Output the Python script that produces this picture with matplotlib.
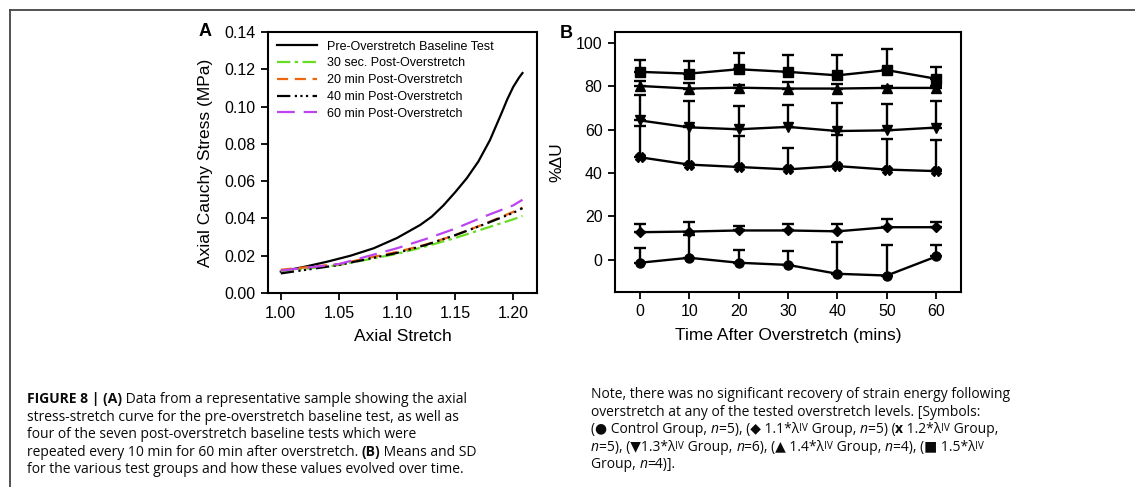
import matplotlib
matplotlib.use("Agg")
import matplotlib.pyplot as plt
from matplotlib.lines import Line2D
from matplotlib.transforms import IdentityTransform
import numpy as np

# ---------------- data: panel A ----------------
base_x = [1.00, 1.02, 1.04, 1.06, 1.08, 1.10, 1.12, 1.13, 1.14, 1.15, 1.16, 1.17, 1.18, 1.19, 1.195, 1.20, 1.205, 1.208]
base_y = [0.0115, 0.0140, 0.0168, 0.0200, 0.0240, 0.0295, 0.0365, 0.0410, 0.0470, 0.0540, 0.0615, 0.0705, 0.0820, 0.0965, 0.1040, 0.1105, 0.1155, 0.1180]

post_x = [1.00, 1.05, 1.10, 1.125, 1.15, 1.175, 1.20, 1.208]
post_30s = [0.0115, 0.0150, 0.0210, 0.0250, 0.0295, 0.0345, 0.0395, 0.0413]
post_20 = [0.0125, 0.0155, 0.0220, 0.0260, 0.0310, 0.0370, 0.0435, 0.0458]
post_40 = [0.0105, 0.0150, 0.0215, 0.0258, 0.0310, 0.0368, 0.0430, 0.0455]
post_60 = [0.0120, 0.0155, 0.0240, 0.0290, 0.0345, 0.0410, 0.0470, 0.0500]

legend_labels = ["Pre-Overstretch Baseline Test", "30 sec. Post-Overstretch",
                 "20 min Post-Overstretch", "40 min Post-Overstretch",
                 "60 min Post-Overstretch"]

# ---------------- data: panel B ----------------
times = [0, 10, 20, 30, 40, 50, 60]
control_mean = [-1.5, 0.8, -1.5, -2.5, -6.6, -7.4, 1.4]
control_sd = [6.9, 10.3, 6.1, 6.3, 14.9, 13.9, 5.1]
g11_mean = [12.6, 12.9, 13.4, 13.4, 13.0, 14.9, 14.9]
g11_sd = [3.9, 4.4, 2.0, 3.1, 3.2, 3.6, 2.4]
g12_mean = [47.2, 43.8, 42.7, 41.6, 43.1, 41.5, 40.8]
g12_sd = [14.3, 17.7, 14.2, 9.9, 14.2, 14.3, 14.5]
g13_mean = [64.2, 61.0, 60.1, 61.2, 59.3, 59.6, 60.9]
g13_sd = [11.5, 12.0, 10.9, 10.3, 13.1, 12.4, 12.1]
g14_mean = [80.1, 78.9, 79.3, 78.9, 78.9, 79.2, 79.2]
g14_sd = [2.2, 2.6, 1.2, 2.8, 2.2, 1.0, 1.0]
g15_mean = [86.6, 85.8, 87.8, 86.6, 85.0, 87.4, 83.4]
g15_sd = [5.4, 5.6, 7.7, 8.0, 9.6, 9.7, 5.5]

# ---------------- figure ----------------
W, H = 1135, 487
fig = plt.figure(figsize=(W / 100, H / 100), dpi=100)
fig.patch.set_facecolor("white")
plt.rcParams["font.family"] = ["Liberation Sans", "DejaVu Sans"]

def fx(px):
    return px / W

def fy(py):
    return 1 - py / H

# frame lines
fig.add_artist(Line2D([fx(10), fx(10)], [fy(10), 0], color="#444444", lw=1.3, transform=fig.transFigure))
fig.add_artist(Line2D([fx(10), 1], [fy(10), fy(10)], color="#444444", lw=1.3, transform=fig.transFigure))

tick_fs = 11.5
label_fs = 12.5

# ---------------- panel A ----------------
axA = fig.add_axes([fx(268), fy(293), fx(537) - fx(268), fy(32) - fy(293)])
axA.plot(base_x, base_y, color="black", lw=1.6, label=legend_labels[0])
axA.plot(post_x, post_30s, color="#66dd22", lw=1.6, ls=(0, (6, 2, 1.5, 2)), label=legend_labels[1])
axA.plot(post_x, post_20, color="#ee6611", lw=1.6, ls=(0, (5, 3)), label=legend_labels[2])
axA.plot(post_x, post_40, color="black", lw=1.6, ls=(0, (6, 2, 1, 1.5, 1, 1.5, 1, 2)), label=legend_labels[3])
axA.plot(post_x, post_60, color="#bb44ee", lw=1.6, ls=(0, (8, 4)), label=legend_labels[4])
axA.set_xlim(0.989, 1.2205)
axA.set_ylim(0, 0.14)
axA.set_xticks([1.00, 1.05, 1.10, 1.15, 1.20])
axA.set_xticklabels(["1.00", "1.05", "1.10", "1.15", "1.20"])
axA.set_yticks(np.arange(0, 0.141, 0.02))
axA.set_yticklabels(["%.2f" % v for v in np.arange(0, 0.141, 0.02)])
axA.set_xlabel("Axial Stretch", fontsize=label_fs, labelpad=6)
axA.set_ylabel("Axial Cauchy Stress (MPa)", fontsize=label_fs, labelpad=8)
axA.legend(loc="upper left", frameon=False, fontsize=9, handlelength=3.2,
           handletextpad=0.8, labelspacing=0.38, borderaxespad=0.3,
           bbox_to_anchor=(0.0, 1.0))

# ---------------- panel B ----------------
axB = fig.add_axes([fx(615), fy(292), fx(961) - fx(615), fy(32) - fy(292)])
series = [
    (control_mean, control_sd, "o", 6.5),
    (g11_mean, g11_sd, "D", 5.5),
    (g12_mean, g12_sd, "X", 7),
    (g13_mean, g13_sd, "v", 7),
    (g14_mean, g14_sd, "^", 7),
    (g15_mean, g15_sd, "s", 6.5),
]
for mean, sd, mk, ms in series:
    lower = np.zeros(len(sd))
    axB.errorbar(times, mean, yerr=[lower, sd], color="black", lw=1.7,
                 marker=mk, markersize=ms, capsize=4, capthick=1.7, elinewidth=1.7,
                 markeredgecolor="black", markerfacecolor="black")
axB.set_xlim(-5, 65)
axB.set_ylim(-15, 105)
axB.set_xticks(times)
axB.set_yticks([0, 20, 40, 60, 80, 100])
axB.set_xlabel("Time After Overstretch (mins)", fontsize=label_fs, labelpad=6)
axB.set_ylabel("%\u0394U", fontsize=label_fs, labelpad=8)

for ax in (axA, axB):
    for sp in ax.spines.values():
        sp.set_linewidth(1.5)
        sp.set_color("black")
    ax.tick_params(direction="out", length=5, width=1.3, labelsize=tick_fs, colors="black", pad=4)

fig.text(fx(205), fy(32), "A", fontsize=13, fontweight="bold", ha="center", va="center")
fig.text(fx(566), fy(33), "B", fontsize=13, fontweight="bold", ha="center", va="center")

# ---------------- caption ----------------
fig.canvas.draw()
renderer = fig.canvas.get_renderer()
cap_family = ["Open Sans", "DejaVu Sans"]

def adv(text, size, weight="normal", style="normal"):
    t = fig.text(0, 0, text + "|", fontsize=size, fontweight=weight, fontstyle=style,
                 family=cap_family, transform=IdentityTransform())
    b = fig.text(0, 0, "|", fontsize=size, fontweight=weight, fontstyle=style,
                 family=cap_family, transform=IdentityTransform())
    w = t.get_window_extent(renderer).width - b.get_window_extent(renderer).width
    t.remove(); b.remove()
    return w

def draw_runs(x, y, runs, size):
    xp = x
    for run in runs:
        text = run[0]
        opts = run[1] if len(run) > 1 else {}
        s = size * opts.get("scale", 1.0)
        dy = opts.get("dy", 0.0)
        w = opts.get("weight", "normal")
        st = opts.get("style", "normal")
        fig.text(xp, H - y - dy, text, fontsize=s, fontweight=w, fontstyle=st,
                 family=cap_family, transform=IdentityTransform(), va="baseline",
                 color="#0a0a0a")
        xp += adv(text, s, w, st)

test = adv("FIGURE 8 | (A)", 10, "bold") + adv(" Data from a representative sample showing the axial", 10)
cap_size = 10 * 440 / test

B = {"weight": "bold"}
I = {"style": "italic"}
SUB = {"scale": 0.72, "dy": -2.2}

left_lines = [
    [("FIGURE 8 | (A)", B), (" Data from a representative sample showing the axial",)],
    [("stress-stretch curve for the pre-overstretch baseline test, as well as",)],
    [("four of the seven post-overstretch baseline tests which were",)],
    [("repeated every 10 min for 60 min after overstretch. ",), ("(B)", B), (" Means and SD",)],
    [("for the various test groups and how these values evolved over time.",)],
]
right_lines = [
    [("Note, there was no significant recovery of strain energy following",)],
    [("overstretch at any of the tested overstretch levels. [Symbols:",)],
    [("(\u25cf Control Group, ",), ("n", I), ("=5), (\u25c6 1.1*\u03bb",), ("IV", SUB),
     (" Group, ",), ("n", I), ("=5) (",), ("x", B), (" 1.2*\u03bb",), ("IV", SUB), (" Group,",)],
    [("n", I), ("=5), (\u25bc1.3*\u03bb",), ("IV", SUB), (" Group, ",), ("n", I),
     ("=6), (\u25b2 1.4*\u03bb",), ("IV", SUB), (" Group, ",), ("n", I), ("=4), (\u25a0 1.5*\u03bb",), ("IV", SUB)],
    [("Group, ",), ("n", I), ("=4)].",)],
]
for i, runs in enumerate(left_lines):
    draw_runs(27, 403 + i * 17.6, runs, cap_size)
for i, runs in enumerate(right_lines):
    draw_runs(591, 398 + i * 17.6, runs, cap_size)

fig.savefig("out.png", dpi=100, facecolor="white")
